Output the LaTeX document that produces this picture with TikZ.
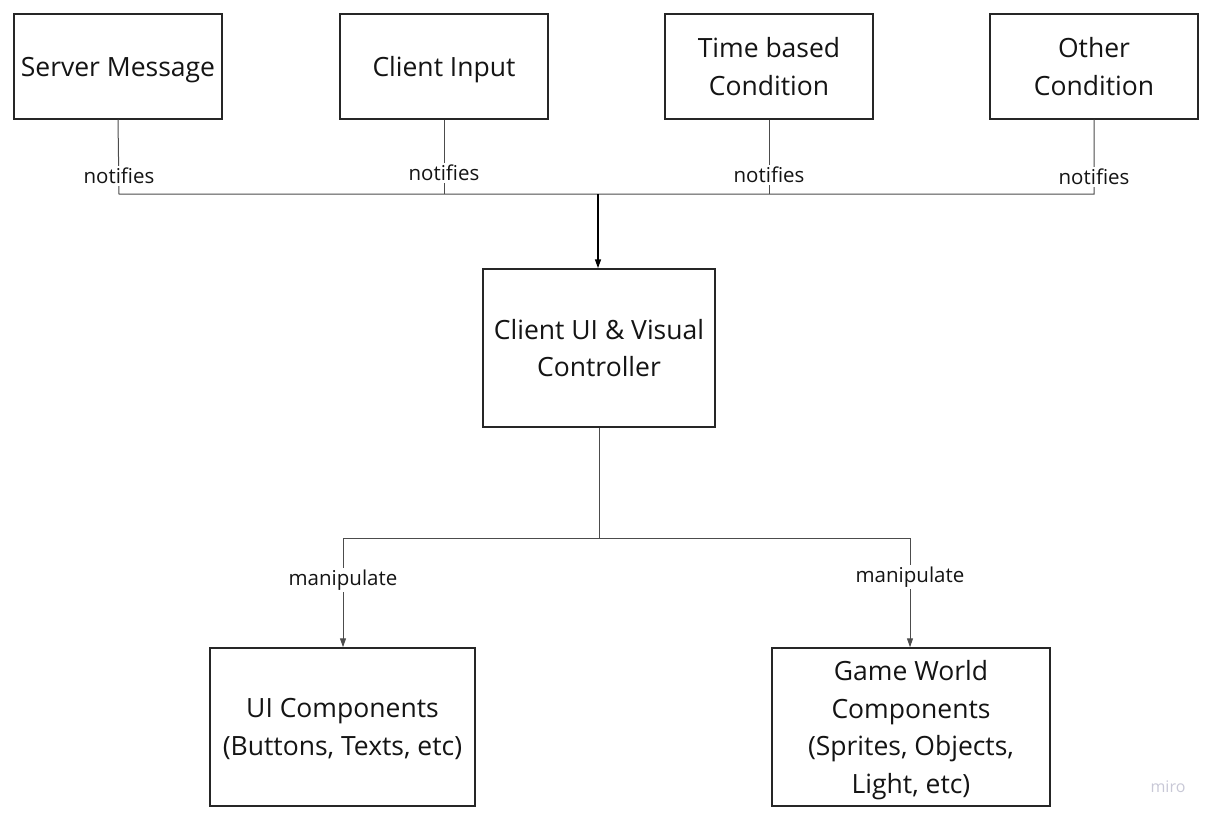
\documentclass[tikz,border=0pt]{standalone}
\usepackage{fontspec}
\setmainfont{Open Sans}
\usetikzlibrary{arrows.meta}
\definecolor{miroc}{RGB}{200,200,214}
\begin{document}
\begin{tikzpicture}[x=1pt,y=-1pt,
  box/.style={draw=black!85,line width=1.5pt,fill=white,inner sep=0pt,align=center,
    font=\fontsize{26.5}{37.7}\selectfont,text=black!92,text depth=0pt},
  conn/.style={draw=black!70,line width=1pt},
  lbl/.style={fill=white,inner sep=2pt,font=\fontsize{20.5}{22}\selectfont,text=black!92},
  tip/.style={-{Triangle[length=9pt,width=6pt]}}
]
\useasboundingbox (0,0) rectangle (1217,821);
\node[box,minimum width=208pt,minimum height=105pt] (sm) at (118,66.5) {Server Message};
\node[box,minimum width=208pt,minimum height=105pt] (ci) at (444,66.5) {Client Input};
\node[box,minimum width=208pt,minimum height=105pt] (tb) at (769,66.5) {Time based\\Condition};
\node[box,minimum width=208pt,minimum height=105pt] (oc) at (1094,66.5) {Other\\Condition};
\node[box,minimum width=232pt,minimum height=158pt] (cu) at (599,348) {Client UI \& Visual\\Controller};
\node[box,minimum width=265pt,minimum height=158pt] (ui) at (342.5,727) {UI Components\\(Buttons, Texts, etc)};
\node[box,minimum width=278pt,minimum height=158pt] (gw) at (911,727) {Game World\\Components\\(Sprites, Objects,\\Light, etc)};

\coordinate (j1) at (119,194);
\coordinate (j4) at (1094,194);
\coordinate (jc) at (598,194);
\draw[conn] (sm.south) -- (j1) -- (j4) -- (oc.south);
\draw[conn] (ci.south) -- (ci.south |- j1);
\draw[conn] (tb.south) -- (tb.south |- j1);
\node[lbl] at (119,176) {notifies};
\node[lbl] at (444,173) {notifies};
\node[lbl] at (769,175) {notifies};
\node[lbl] at (1094,177) {notifies};
\draw[line width=1.5pt,black,tip] (jc) -- (jc |- cu.north);

\coordinate (b0) at (599,538);
\coordinate (bl) at (343,538);
\coordinate (br) at (910,538);
\draw[conn] (cu.south) -- (b0);
\draw[conn] (bl) -- (br);
\draw[conn,tip] (bl) -- (bl |- ui.north);
\draw[conn,tip] (br) -- (br |- gw.north);
\node[lbl] at (343,580) {manipulate};
\node[lbl] at (910,577) {manipulate};

\node[font=\fontsize{16}{16}\selectfont,text=miroc] (miro) at (1168,787) {miro};
\end{tikzpicture}
\end{document}
